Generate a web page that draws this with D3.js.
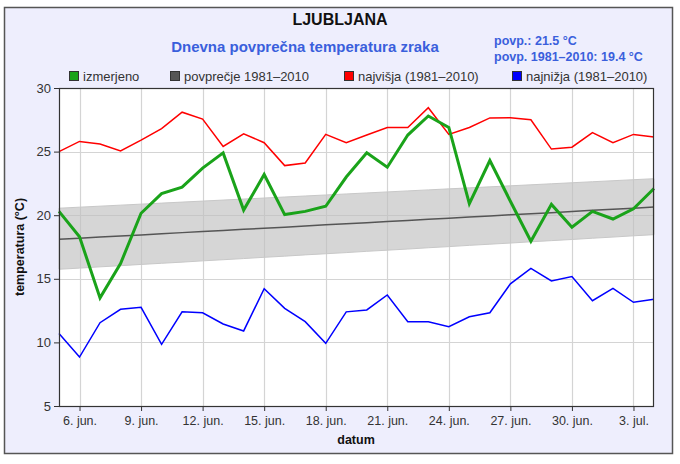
<!DOCTYPE html>
<html><head><meta charset="utf-8">
<script src="https://cdn.jsdelivr.net/npm/d3@7"></script>
<style>body{margin:0;background:#fff}svg{display:block;font-family:"Liberation Sans",Arial,sans-serif}</style>
</head><body><svg id="c" width="680" height="464"></svg>
<script>
const startDate = "2024-06-05";
const measured = [20.3,18.3,13.5,16.2,20.15,21.7,22.2,23.7,24.9,20.4,23.2,20.05,20.3,20.7,23.0,24.9,23.77,26.3,27.8,26.9,20.9,24.3,21.1,17.95,20.85,19.05,20.3,19.7,20.5,22.1];
const avg = [18.10,18.19,18.28,18.36,18.45,18.54,18.63,18.71,18.80,18.89,18.98,19.06,19.15,19.24,19.33,19.41,19.50,19.59,19.68,19.76,19.85,19.94,20.03,20.11,20.20,20.29,20.38,20.46,20.55,20.64];
const bandHi = [20.55,20.63,20.71,20.79,20.87,20.95,21.03,21.11,21.19,21.27,21.35,21.43,21.51,21.59,21.67,21.75,21.83,21.91,21.99,22.07,22.15,22.23,22.31,22.39,22.47,22.55,22.63,22.71,22.79,22.87];
const bandLo = [15.75,15.84,15.94,16.03,16.13,16.22,16.31,16.41,16.50,16.59,16.69,16.78,16.88,16.97,17.06,17.16,17.25,17.34,17.44,17.53,17.63,17.72,17.81,17.91,18.00,18.09,18.19,18.28,18.38,18.47];
const maxRec = [25.0,25.8,25.6,25.05,25.9,26.8,28.1,27.55,25.4,26.4,25.7,23.9,24.1,26.35,25.7,26.3,26.9,26.9,28.45,26.35,26.9,27.65,27.67,27.5,25.2,25.35,26.5,25.7,26.35,26.15];
const minRec = [10.7,8.85,11.55,12.6,12.76,9.85,12.4,12.33,11.45,10.9,14.22,12.68,11.63,9.93,12.4,12.55,13.73,11.63,11.63,11.24,12.02,12.33,14.6,15.82,14.83,15.17,13.28,14.25,13.15,13.4];
const yTicks = [5,10,15,20,25,30];
const xTickLabels = ["6. jun.","9. jun.","12. jun.","15. jun.","18. jun.","21. jun.","24. jun.","27. jun.","30. jun.","3. jul."];
const legendLabels = ["izmerjeno","povprečje 1981–2010","najvišja (1981–2010)","najnižja (1981–2010)"];
const legendColors = ["#1aa31a","#555555","#ff0000","#0000ff"];

const svg = d3.select("#c");
const L=59, R=654, T=88, B=406;
const t0 = d3.timeParse("%Y-%m-%d")(startDate);
const dates = measured.map((_,i)=>d3.timeDay.offset(t0,i));
const x = d3.scaleTime().domain([dates[0], dates[dates.length-1]]).range([L,R]);
const y = d3.scaleLinear().domain([5,30]).range([B,T]);

// outer panel
svg.append("rect").attr("x",4.5).attr("y",7.5).attr("width",668).attr("height",446)
  .attr("fill","#eeeefd").attr("stroke","#555").attr("stroke-width",1.5);
svg.append("rect").attr("x",L).attr("y",T).attr("width",R-L).attr("height",B-T).attr("fill","#fff");

// titles
svg.append("text").attr("x",340).attr("y",25).attr("text-anchor","middle").attr("font-size",16).attr("font-weight","bold").attr("fill","#111").text("LJUBLJANA");
svg.append("text").attr("x",305).attr("y",52).attr("text-anchor","middle").attr("font-size",15).attr("font-weight","bold").attr("fill","#3a5fdc").text("Dnevna povprečna temperatura zraka");
svg.append("text").attr("x",494).attr("y",45).attr("font-size",12.5).attr("font-weight","bold").attr("fill","#3a5fdc").text("povp.: 21.5 °C");
svg.append("text").attr("x",494).attr("y",61).attr("font-size",12.5).attr("font-weight","bold").attr("fill","#3a5fdc").text("povp. 1981–2010: 19.4 °C");

// legend
const legX = [69,170,344,512];
legendLabels.forEach((lab,i)=>{
  svg.append("rect").attr("x",legX[i]+0.5).attr("y",71.5).attr("width",9).attr("height",9).attr("fill",legendColors[i]).attr("stroke","#333").attr("stroke-width",1);
  svg.append("text").attr("x",legX[i]+14).attr("y",81).attr("font-size",13).attr("fill","#333").text(lab);
});

// grid
const tickDates = xTickLabels.map((_,i)=>d3.timeDay.offset(t0,1+3*i));
svg.append("g").selectAll("line").data(tickDates).join("line")
  .attr("x1",d=>Math.round(x(d))+0.5).attr("x2",d=>Math.round(x(d))+0.5).attr("y1",T).attr("y2",B)
  .attr("stroke","#d4d4d4").attr("stroke-width",1.2);
svg.append("g").selectAll("line").data(yTicks).join("line")
  .attr("y1",d=>Math.round(y(d))+0.5).attr("y2",d=>Math.round(y(d))+0.5).attr("x1",L).attr("x2",R)
  .attr("stroke","#d4d4d4").attr("stroke-width",1.2);

// band
const area = d3.area().x((d,i)=>x(dates[i])).y0((d,i)=>y(bandLo[i])).y1((d,i)=>y(bandHi[i]));
svg.append("path").datum(bandHi).attr("d",area).attr("fill","#c0c0c0").attr("fill-opacity",0.65)
  .attr("stroke","#c8c8c8").attr("stroke-width",1);

const line = arr => d3.line().x((d,i)=>x(dates[i])).y(d=>y(d))(arr);
svg.append("path").attr("d",line(avg)).attr("fill","none").attr("stroke","#555").attr("stroke-width",1.5);
svg.append("path").attr("d",line(maxRec)).attr("fill","none").attr("stroke","#ff0000").attr("stroke-width",1.5);
svg.append("path").attr("d",line(minRec)).attr("fill","none").attr("stroke","#0000ff").attr("stroke-width",1.5);
svg.append("path").attr("d",line(measured)).attr("fill","none").attr("stroke","#1aa31a").attr("stroke-width",3).attr("stroke-linejoin","miter");

// frame
svg.append("rect").attr("x",L+0.5).attr("y",T+0.5).attr("width",R-L-1).attr("height",B-T).attr("fill","none").attr("stroke","#333").attr("stroke-width",1.2);

// axes
const xAxis = d3.axisBottom(x).tickValues(tickDates).tickFormat((d,i)=>xTickLabels[i]).tickSize(5).tickSizeOuter(0);
const gx = svg.append("g").attr("transform",`translate(0,${B})`).call(xAxis);
gx.select(".domain").remove();
gx.selectAll("line").attr("stroke","#333");
gx.selectAll("text").attr("font-size",12.5).attr("fill","#333").attr("font-family","'Liberation Sans',Arial,sans-serif").attr("dy","0.9em");
const yAxis = d3.axisLeft(y).tickValues(yTicks).tickSize(5).tickSizeOuter(0);
const gy = svg.append("g").attr("transform",`translate(${L},0)`).call(yAxis);
gy.select(".domain").remove();
gy.selectAll("line").attr("stroke","#333");
gy.selectAll("text").attr("font-size",13).attr("fill","#333").attr("font-family","'Liberation Sans',Arial,sans-serif");

svg.append("text").attr("x",356).attr("y",444).attr("text-anchor","middle").attr("font-size",12.5).attr("font-weight","bold").attr("fill","#111").text("datum");
svg.append("text").attr("transform","translate(24,247) rotate(-90)").attr("text-anchor","middle").attr("font-size",12.5).attr("font-weight","bold").attr("fill","#111").text("temperatura (°C)");
</script></body></html>
